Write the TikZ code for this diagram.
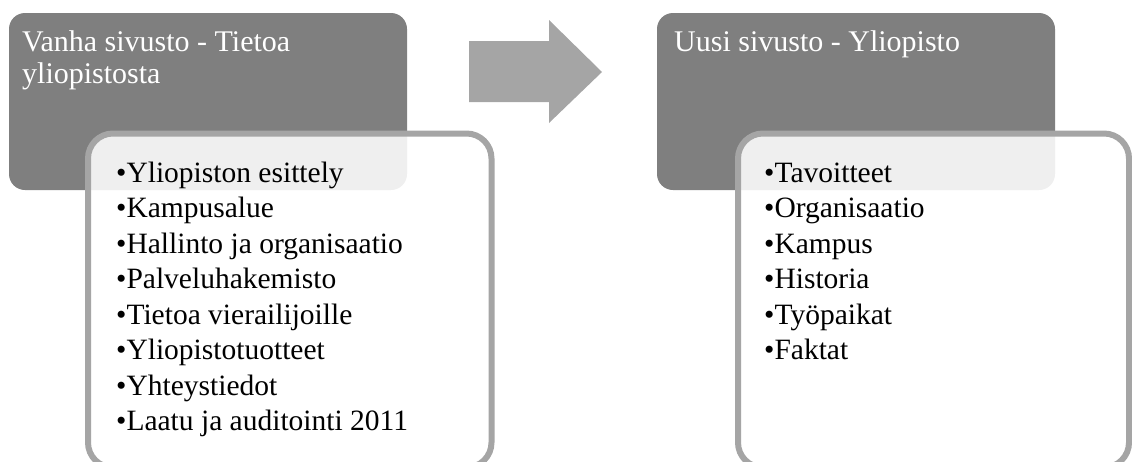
\documentclass[tikz,border=0pt]{standalone}
\usepackage{fontspec}
\setmainfont{Liberation Serif}
\definecolor{boxgray}{HTML}{7F7F7F}
\definecolor{rimgray}{HTML}{A5A5A5}
\tikzset{
  headbox/.style={fill=boxgray, rounded corners=16pt, inner sep=0pt,
    minimum width=398pt, minimum height=177pt},
  listbox/.style={fill=white, fill opacity=0.88, draw=rimgray, draw opacity=1,
    line width=6pt, rounded corners=25pt, inner sep=0pt, minimum height=334pt},
  headtext/.style={anchor=base west, inner sep=0pt, text=white,
    font=\fontsize{30}{32}\selectfont},
  itemtext/.style={anchor=base west, inner sep=0pt, text=black,
    font=\fontsize{29.5}{35}\selectfont},
  flow/.style={fill=rimgray, draw=none}
}
\begin{document}
\begin{tikzpicture}[x=1pt, y=-1pt]
\useasboundingbox (0,0) rectangle (1132,461);
\clip (0,0) rectangle (1132,461);

% heading panels
\node[headbox] (oldhead) at (208,101.5) {};
\node[headbox] (newhead) at (856,101.5) {};

% translucent list panels overlapping the headings
\node[listbox, minimum width=403.5pt] (oldlist) at (289.75,300.5) {};
\node[listbox, minimum width=391pt] (newlist) at (933.5,300.5) {};

% block arrow between the two panels
\fill[flow] (469,41) -- (549,41) -- (549,20) -- (602,72) -- (549,123)
  -- (549,102) -- (469,102) -- cycle;

% headings
\node[headtext] (oldt1) at (22,51) {Vanha sivusto - Tietoa};
\node[headtext] (oldt2) at (22,83) {yliopistosta};
\node[headtext] (newt1) at (674,51) {Uusi sivusto - Yliopisto};

% old site contents
\foreach \txt [count=\i from 0] in {Yliopiston esittely, Kampusalue,
    Hallinto ja organisaatio, Palveluhakemisto, Tietoa vierailijoille,
    Yliopistotuotteet, Yhteystiedot, Laatu ja auditointi 2011}
  \node[itemtext] (old\i) at (116,182+35.5*\i) {\textbullet\txt};

% new site contents
\foreach \txt [count=\i from 0] in {Tavoitteet, Organisaatio, Kampus,
    Historia, Työpaikat, Faktat}
  \node[itemtext] (new\i) at (764,182+35.5*\i) {\textbullet\txt};
\end{tikzpicture}
\end{document}
